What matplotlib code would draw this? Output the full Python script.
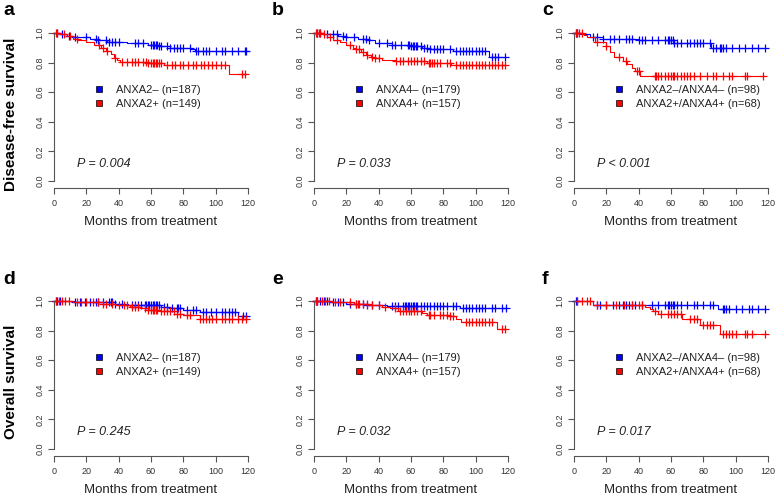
import matplotlib
matplotlib.use("Agg")
import matplotlib.pyplot as plt
from matplotlib.lines import Line2D
import numpy as np

plt.rcParams['font.family'] = ['Liberation Sans', 'DejaVu Sans']

BLUE = '#0000FF'
RED = '#FF0000'
AXC = '#555555'

# ---- data: KM step times / survival / censor times ----
# panel a: disease-free survival, ANXA2
a_blue_t = [0, 4, 8, 12, 16, 22, 27, 33, 45, 58, 65, 72, 85, 87]
a_blue_s = [1.0, 0.99, 0.98, 0.975, 0.97, 0.96, 0.95, 0.94, 0.93, 0.92, 0.91, 0.90, 0.89, 0.875]
a_blue_c = [2, 5, 9, 13, 20, 26, 27, 32, 34, 36, 38, 40, 50, 52, 55, 60, 61, 62, 63, 64, 65, 66,
            70, 72, 74, 76, 78, 80, 84, 88, 89, 92, 94, 96, 100, 104, 106, 110, 114, 118, 119]
a_red_t = [0, 3, 8, 12, 15, 20, 25, 29, 32, 35, 37, 39, 41, 58, 68, 108]
a_red_s = [1.0, 0.99, 0.98, 0.96, 0.95, 0.94, 0.92, 0.90, 0.88, 0.86, 0.83, 0.815, 0.805, 0.80, 0.785, 0.72]
a_red_c = [1, 2, 6, 10, 14, 28, 30, 33, 38, 42, 45, 48, 50, 52, 55, 57, 58, 60, 61, 62, 63, 64, 65, 66,
           70, 73, 75, 78, 80, 83, 86, 88, 91, 93, 95, 98, 100, 103, 106, 116, 118]

# panel b: disease-free survival, ANXA4
b_blue_t = [0, 5, 15, 20, 27, 33, 38, 48, 60, 67, 72, 86, 88, 108]
b_blue_s = [1.0, 0.99, 0.98, 0.97, 0.96, 0.95, 0.93, 0.92, 0.91, 0.90, 0.89, 0.88, 0.875, 0.84]
b_blue_c = [2, 4, 8, 12, 14, 18, 20, 25, 30, 32, 34, 40, 45, 48, 50, 54, 58, 59, 60, 61, 62, 63, 64,
            66, 68, 70, 72, 74, 76, 78, 80, 84, 88, 90, 92, 94, 96, 98, 100, 102, 104, 106, 110, 112,
            114, 118]
b_red_t = [0, 5, 8, 12, 16, 20, 24, 26, 29, 32, 35, 38, 42, 50, 70, 85]
b_red_s = [1.0, 0.99, 0.97, 0.95, 0.94, 0.92, 0.90, 0.89, 0.87, 0.85, 0.84, 0.83, 0.82, 0.81, 0.80, 0.785]
b_red_c = [1, 2, 3, 4, 6, 10, 14, 22, 26, 28, 30, 33, 36, 38, 40, 51, 53, 55, 58, 60, 62, 64, 66, 68,
           71, 72, 73, 74, 76, 78, 82, 84, 88, 90, 92, 94, 96, 98, 100, 102, 104, 106, 108, 110, 112,
           114, 116, 118]

# panel c: disease-free survival, combined
c_blue_t = [0, 4, 10, 18, 40, 62, 85]
c_blue_s = [1.0, 0.99, 0.97, 0.96, 0.95, 0.93, 0.90]
c_blue_c = [1, 2, 12, 14, 18, 22, 25, 28, 32, 34, 36, 40, 42, 44, 48, 52, 56, 58, 59, 60, 61, 62, 64,
            66, 70, 72, 74, 76, 78, 80, 84, 86, 88, 90, 91, 92, 94, 98, 102, 106, 110, 114, 118]
c_red_t = [0, 6, 8, 13, 20, 22, 25, 30, 33, 36, 38, 41]
c_red_s = [1.0, 0.985, 0.97, 0.94, 0.91, 0.87, 0.84, 0.81, 0.79, 0.76, 0.74, 0.71]
c_red_c = [1, 2, 3, 5, 14, 20, 28, 32, 39, 40, 50, 51, 52, 54, 56, 58, 60, 61, 62, 64, 66, 68, 70,
           72, 74, 78, 82, 86, 88, 92, 96, 98, 106, 107, 117]

# panel d: overall survival, ANXA2
d_blue_t = [0, 13, 38, 46, 66, 72, 80, 90, 114]
d_blue_s = [1.0, 0.99, 0.98, 0.97, 0.96, 0.95, 0.94, 0.925, 0.895]
d_blue_c = [1, 2, 4, 13, 16, 19, 22, 26, 27, 30, 34, 35, 36, 38, 42, 48, 50, 52, 54, 56, 57, 58, 59,
            60, 61, 62, 63, 64, 65, 68, 70, 73, 76, 77, 78, 82, 86, 88, 92, 94, 97, 100, 104, 106,
            108, 110, 112, 117, 119]
d_red_t = [0, 12, 30, 38, 47, 53, 58, 66, 76, 80, 90]
d_red_s = [1.0, 0.99, 0.98, 0.97, 0.96, 0.95, 0.94, 0.93, 0.915, 0.905, 0.88]
d_red_c = [1, 3, 5, 7, 9, 14, 17, 20, 24, 27, 30, 32, 36, 40, 43, 45, 48, 50, 52, 56, 58, 60, 61,
           62, 63, 64, 66, 68, 70, 72, 74, 76, 78, 82, 84, 90, 92, 94, 96, 98, 100, 104, 106, 108,
           110, 114, 116, 119]

# panel e: overall survival, ANXA4
e_blue_t = [0, 10, 20, 32, 45, 90]
e_blue_s = [1.0, 0.99, 0.98, 0.975, 0.967, 0.95]
e_blue_c = [1, 2, 4, 6, 8, 12, 15, 18, 22, 26, 30, 33, 36, 40, 48, 50, 52, 55, 56, 57, 58, 59, 60,
            61, 62, 63, 64, 66, 68, 70, 72, 74, 76, 78, 80, 82, 86, 88, 92, 94, 96, 98, 100, 102,
            104, 106, 110, 112, 116, 119]
e_red_t = [0, 12, 25, 35, 42, 47, 52, 67, 70, 84, 88, 91, 113]
e_red_s = [1.0, 0.99, 0.98, 0.97, 0.96, 0.95, 0.935, 0.92, 0.905, 0.895, 0.88, 0.86, 0.81]
e_red_c = [1, 2, 5, 7, 9, 13, 16, 22, 26, 27, 28, 30, 33, 36, 40, 44, 50, 53, 55, 57, 59, 60, 62,
           64, 66, 71, 72, 74, 78, 80, 82, 84, 86, 94, 96, 98, 100, 102, 104, 106, 108, 110, 116, 118]

# panel f: overall survival, combined
f_blue_t = [0, 12, 89]
f_blue_s = [1.0, 0.975, 0.945]
f_blue_c = [1, 2, 14, 16, 20, 24, 28, 30, 32, 34, 36, 38, 42, 48, 52, 56, 58, 59, 60, 61, 62, 64,
            66, 70, 74, 76, 80, 84, 86, 92, 93, 94, 96, 100, 104, 108, 110, 114, 118]
f_red_t = [0, 12, 44, 47, 49, 52, 67, 78, 90]
f_red_s = [1.0, 0.97, 0.96, 0.945, 0.93, 0.91, 0.875, 0.835, 0.775]
f_red_c = [2, 5, 8, 10, 14, 20, 26, 31, 36, 40, 42, 50, 54, 58, 60, 62, 64, 66, 72, 74, 76, 80, 82,
           84, 86, 92, 94, 96, 98, 100, 106, 107, 110, 118]

panel_letters = ['a', 'b', 'c', 'd', 'e', 'f']
p_texts = ['P = 0.004', 'P = 0.033', 'P < 0.001', 'P = 0.245', 'P = 0.032', 'P = 0.017']
legend_labels = [
    ['ANXA2\u2013 (n=187)', 'ANXA2+ (n=149)'],
    ['ANXA4\u2013 (n=179)', 'ANXA4+ (n=157)'],
    ['ANXA2\u2013/ANXA4\u2013 (n=98)', 'ANXA2+/ANXA4+ (n=68)'],
    ['ANXA2\u2013 (n=187)', 'ANXA2+ (n=149)'],
    ['ANXA4\u2013 (n=179)', 'ANXA4+ (n=157)'],
    ['ANXA2\u2013/ANXA4\u2013 (n=98)', 'ANXA2+/ANXA4+ (n=68)'],
]
row_labels = ['Disease-free survival', 'Overall survival']
x_ticks = [0, 20, 40, 60, 80, 100, 120]
y_ticks = [0.0, 0.2, 0.4, 0.6, 0.8, 1.0]

curves = [
    [(a_blue_t, a_blue_s, a_blue_c), (a_red_t, a_red_s, a_red_c)],
    [(b_blue_t, b_blue_s, b_blue_c), (b_red_t, b_red_s, b_red_c)],
    [(c_blue_t, c_blue_s, c_blue_c), (c_red_t, c_red_s, c_red_c)],
    [(d_blue_t, d_blue_s, d_blue_c), (d_red_t, d_red_s, d_red_c)],
    [(e_blue_t, e_blue_s, e_blue_c), (e_red_t, e_red_s, e_red_c)],
    [(f_blue_t, f_blue_s, f_blue_c), (f_red_t, f_red_s, f_red_c)],
]

W, H = 777, 500
fig = plt.figure(figsize=(W / 100, H / 100), dpi=100)

col_left = [54, 314, 574]
col_width = 194
row_bottom = [188, 456]      # pixel row of x axis
row_top = [28.5, 296.5]
ymin = -0.047
letter_x = [3, 272, 542]
letter_base = [15, 284]
row_label_y = [114, 382]


def km_draw(ax, t, s, c, color):
    t = np.asarray(t, float)
    s = np.asarray(s, float)
    c = np.asarray(c, float)
    end = max(c.max(), t.max())
    xs = np.append(t, end)
    ys = np.append(s, s[-1])
    ax.step(xs, ys, where='post', color=color, lw=0.8, clip_on=False)
    idx = np.searchsorted(t, c, side='right') - 1
    ax.plot(c, s[idx], ls='', marker='+', ms=5.5, mew=0.9, color=color, clip_on=False)


for i in range(6):
    r, col = divmod(i, 3)
    left = col_left[col] / W
    bottom = 1 - row_bottom[r] / H
    height = (row_bottom[r] - row_top[r]) / H
    ax = fig.add_axes([left, bottom, col_width / W, height])

    for (t, s, c), color in zip(curves[i], [BLUE, RED]):
        km_draw(ax, t, s, c, color)

    ax.set_xlim(0, 120)
    ax.set_ylim(ymin, 1.03)
    for side in ['top', 'right']:
        ax.spines[side].set_visible(False)
    ax.spines['left'].set_bounds(0, 1)
    ax.spines['bottom'].set_bounds(0, 120)
    for side in ['left', 'bottom']:
        ax.spines[side].set_color(AXC)
        ax.spines[side].set_linewidth(0.8)
    ax.set_xticks(x_ticks)
    ax.set_yticks(y_ticks, [f'{v:.1f}' for v in y_ticks], rotation=90, va='center')
    ax.tick_params(colors=AXC, labelcolor='#333333', length=4, width=0.8, labelsize=6.5)
    ax.tick_params(axis='x', pad=4)
    ax.tick_params(axis='y', pad=3)
    ax.set_xlabel('Months from treatment', fontsize=9.5, color='#222222', labelpad=6)

    handles = [Line2D([], [], ls='', marker='s', ms=4.4, mfc=BLUE, mec='black', mew=0.5),
               Line2D([], [], ls='', marker='s', ms=4.4, mfc=RED, mec='black', mew=0.5)]
    ax.legend(handles, legend_labels[i], loc='upper left', bbox_to_anchor=(0.204, 0.645),
              frameon=False, fontsize=8, handlelength=1.0, handletextpad=1.0,
              labelspacing=0.35, borderpad=0, borderaxespad=0, labelcolor='#222222')

    ax.text(14, 0.115, p_texts[i], fontsize=9, style='italic', color='#222222',
            ha='left', va='center')

    fig.text(letter_x[col] / W, 1 - letter_base[r] / H, panel_letters[i],
             fontsize=14, fontweight='bold', ha='left', va='baseline')

for r in range(2):
    fig.text(11 / W, 1 - row_label_y[r] / H, row_labels[r], rotation=90, fontsize=11,
             fontweight='bold', ha='center', va='center')

fig.savefig('out.png', dpi=100)
